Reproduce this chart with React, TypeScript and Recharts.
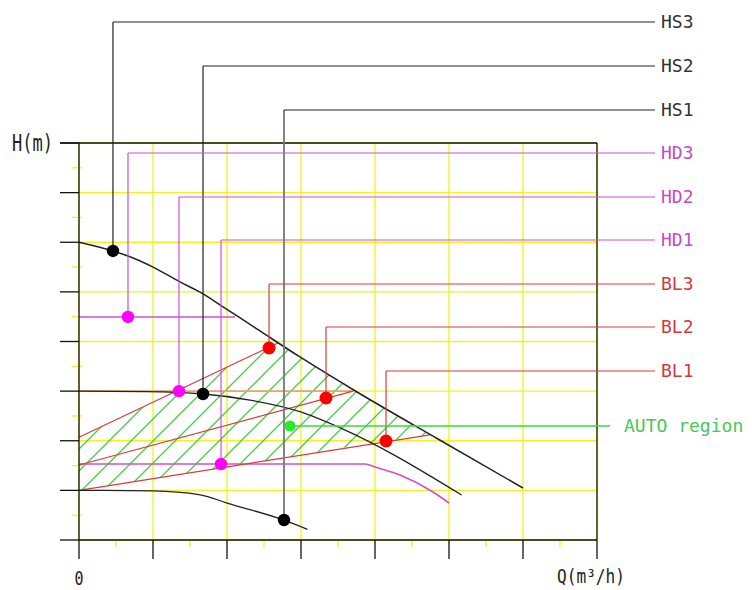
import React from 'react';
import {
  ComposedChart,
  XAxis,
  YAxis,
  CartesianGrid,
  Line,
  Area,
  ReferenceLine,
  ReferenceDot,
} from 'recharts';

// ---------- data ----------
const X_TICKS = [0, 1, 2, 3, 4, 5, 6, 7];
const Y_TICKS = [0, 1, 2, 3, 4, 5, 6, 7, 8];
const X_MINOR = [0.5, 1.5, 2.5, 3.5, 4.5, 5.5, 6.5];
const Y_MINOR = [0.5, 1.5, 2.5, 3.5, 4.5, 5.5, 6.5, 7.5];

const HS3_CURVE = [
  { x: 0, y: 6.0 },
  { x: 0.459, y: 5.824 },
  { x: 0.662, y: 5.723 },
  { x: 1.0, y: 5.5 },
  { x: 1.365, y: 5.2 },
  { x: 1.676, y: 4.96 },
  { x: 1.905, y: 4.74 },
  { x: 2.446, y: 4.212 },
  { x: 2.986, y: 3.688 },
  { x: 3.757, y: 2.982 },
  { x: 4.851, y: 2.035 },
  { x: 6.0, y: 1.048 },
];
const HS2_CURVE = [
  { x: 0, y: 3.0 },
  { x: 0.9, y: 2.99 },
  { x: 1.676, y: 2.942 },
  { x: 2.31, y: 2.82 },
  { x: 2.986, y: 2.586 },
  { x: 3.53, y: 2.26 },
  { x: 5.171, y: 0.907 },
];
const HS1_CURVE = [
  { x: 0, y: 1.0 },
  { x: 1.0, y: 0.99 },
  { x: 1.638, y: 0.91 },
  { x: 2.0, y: 0.745 },
  { x: 2.77, y: 0.4 },
  { x: 3.087, y: 0.216 },
];
const HD3_LINE = [
  { x: 0, y: 4.494 },
  { x: 2.108, y: 4.494 },
];
const HD2_LINE = [
  { x: 0, y: 3.0 },
  { x: 3.703, y: 3.0 },
];
const HD1_CURVE = [
  { x: 0, y: 1.531 },
  { x: 3.865, y: 1.531 },
  { x: 4.0, y: 1.471 },
  { x: 4.338, y: 1.31 },
  { x: 4.784, y: 0.967 },
  { x: 5.0, y: 0.746 },
];
const BL3_LINE = [
  { x: 0, y: 2.07 },
  { x: 2.689, y: 3.97 },
];
const BL2_LINE = [
  { x: 0, y: 1.511 },
  { x: 3.703, y: 3.0 },
];
const BL1_LINE = [
  { x: 0, y: 1.0 },
  { x: 4.743, y: 2.12 },
];
const AUTO_REGION = [
  { x: 0, low: 1.0, high: 2.07 },
  { x: 2.689, low: 1.645, high: 3.97 },
  { x: 2.986, low: 1.717, high: 3.688 },
  { x: 3.757, low: 1.902, high: 2.982 },
  { x: 4.743, low: 2.12, high: 2.12 },
];

const MARKERS = [
  { name: 'HS3', group: 'HS', x: 0.459, y: 5.824 },
  { name: 'HS2', group: 'HS', x: 1.676, y: 2.942 },
  { name: 'HS1', group: 'HS', x: 2.77, y: 0.403 },
  { name: 'HD3', group: 'HD', x: 0.662, y: 4.494 },
  { name: 'HD2', group: 'HD', x: 1.351, y: 3.0 },
  { name: 'HD1', group: 'HD', x: 1.919, y: 1.531 },
  { name: 'BL3', group: 'BL', x: 2.568, y: 3.869 },
  { name: 'BL2', group: 'BL', x: 3.338, y: 2.861 },
  { name: 'BL1', group: 'BL', x: 4.149, y: 1.995 },
];
const AUTO_POINT = { name: 'AUTO region', x: 2.851, y: 2.297 };

// ---------- layout ----------
const LEADER_LEVELS = [10.438, 9.552, 8.665, 7.798, 6.912, 6.045, 5.159, 4.292, 3.406];
const LEADER_END_X = 7.784;
const AUTO_END_X = 7.176;

const MONO = '"DejaVu Sans Mono", monospace';
const YELLOW = '#f2f21c';
const GROUP_STYLE: Record<string, { line: string; dot: string; text: string; r: number }> = {
  HS: { line: '#222', dot: '#000', text: '#333', r: 6.2 },
  HD: { line: '#d050d0', dot: '#ff00ff', text: '#c64ac6', r: 6.2 },
  BL: { line: '#d83c3c', dot: '#ff0000', text: '#cf3b3b', r: 6.5 },
};

const XTick = (props: any) => {
  const { x, y, payload } = props;
  if (payload.value === 0) {
    return (
      <text x={x} y={y + 26} textAnchor="middle" fontSize={19} fontFamily={MONO} fill="#222" textLength={9} lengthAdjust="spacingAndGlyphs">
        0
      </text>
    );
  }
  if (payload.value === 7) {
    return (
      <text x={x - 40} y={y + 24} fontSize={19} fontFamily={MONO} fill="#222" textLength={68} lengthAdjust="spacingAndGlyphs">
        Q(m³/h)
      </text>
    );
  }
  return <g />;
};

const YTick = (props: any) => {
  const { x, y, payload } = props;
  if (payload.value === 8) {
    return (
      <text x={x - 48} y={y + 8} fontSize={23} fontFamily={MONO} fill="#222" textLength={41} lengthAdjust="spacingAndGlyphs">
        H(m)
      </text>
    );
  }
  return <g />;
};

export default function App() {
  return (
    <div style={{ position: 'absolute', left: 0, top: 0, width: 752, height: 590, background: '#fff' }}>
      <ComposedChart
        width={752}
        height={590}
        margin={{ top: 143, right: 155, bottom: 31, left: 60 }}
      >
        <defs>
          <pattern id="hatch" patternUnits="userSpaceOnUse" width={22} height={22}>
            <path d="M0,22 L22,0 M-6,6 L6,-6 M16,28 L28,16" stroke="#3fcf3f" strokeWidth={1.3} />
          </pattern>
        </defs>
        <CartesianGrid stroke={YELLOW} strokeWidth={1.3} />
        <XAxis
          type="number"
          dataKey="x"
          domain={[0, 7]}
          ticks={X_TICKS}
          height={19}
          tickSize={19}
          tickMargin={0}
          interval={0}
          axisLine={{ stroke: '#111', strokeWidth: 1.3 }}
          tickLine={{ stroke: '#111', strokeWidth: 1.3 }}
          tick={XTick}
        />
        <YAxis
          type="number"
          dataKey="y"
          domain={[0, 8]}
          ticks={Y_TICKS}
          width={19}
          tickSize={19}
          tickMargin={0}
          interval={0}
          axisLine={{ stroke: '#111', strokeWidth: 1.3 }}
          tickLine={{ stroke: '#111', strokeWidth: 1.3 }}
          tick={YTick}
        />

        {X_MINOR.map((v) => (
          <ReferenceLine key={'xm' + v} segment={[{ x: v, y: 0 }, { x: v, y: -0.14 }]} stroke={YELLOW} strokeWidth={1.3} ifOverflow="visible" />
        ))}
        {Y_MINOR.map((v) => (
          <ReferenceLine key={'ym' + v} segment={[{ x: -0.095, y: v }, { x: 0.04, y: v }]} stroke={YELLOW} strokeWidth={1.3} ifOverflow="visible" />
        ))}

        <Area
          data={AUTO_REGION}
          dataKey={(d: any) => [d.low, d.high]}
          type="linear"
          stroke="none"
          fill="url(#hatch)"
          fillOpacity={1}
          isAnimationActive={false}
        />

        <Line data={HD2_LINE} dataKey="y" type="linear" stroke="#e9a27c" strokeWidth={1.8} dot={false} isAnimationActive={false} />
        <Line data={HD3_LINE} dataKey="y" type="linear" stroke={GROUP_STYLE.HD.line} strokeWidth={1.5} dot={false} isAnimationActive={false} />
        <Line data={HD1_CURVE} dataKey="y" type="monotone" stroke={GROUP_STYLE.HD.line} strokeWidth={1.6} dot={false} isAnimationActive={false} />
        <Line data={BL3_LINE} dataKey="y" type="linear" stroke={GROUP_STYLE.BL.line} strokeWidth={1.2} dot={false} isAnimationActive={false} />
        <Line data={BL2_LINE} dataKey="y" type="linear" stroke={GROUP_STYLE.BL.line} strokeWidth={1.2} dot={false} isAnimationActive={false} />
        <Line data={BL1_LINE} dataKey="y" type="linear" stroke={GROUP_STYLE.BL.line} strokeWidth={1.2} dot={false} isAnimationActive={false} />
        <Line data={HS3_CURVE} dataKey="y" type="monotone" stroke="#222" strokeWidth={1.5} dot={false} isAnimationActive={false} />
        <Line data={HS2_CURVE} dataKey="y" type="monotone" stroke="#222" strokeWidth={1.3} dot={false} isAnimationActive={false} />
        <Line data={HS1_CURVE} dataKey="y" type="monotone" stroke="#222" strokeWidth={1.3} dot={false} isAnimationActive={false} />

        {/* frame */}
        <ReferenceLine segment={[{ x: -0.257, y: 8 }, { x: 7, y: 8 }]} stroke="#111" strokeWidth={1.3} ifOverflow="visible" />
        <ReferenceLine segment={[{ x: 7, y: 0 }, { x: 7, y: 8 }]} stroke="#111" strokeWidth={1.3} ifOverflow="visible" />

        {/* leaders */}
        {MARKERS.map((m, i) => {
          const st = GROUP_STYLE[m.group];
          const lvl = LEADER_LEVELS[i];
          const isHS1 = m.name === 'HS1';
          return (
            <React.Fragment key={'ld' + m.name}>
              <ReferenceLine
                segment={[{ x: m.x, y: m.y }, { x: m.x, y: lvl }]}
                stroke={isHS1 ? '#777' : st.line}
                strokeWidth={isHS1 ? 1.8 : 1.2}
                ifOverflow="visible"
              />
              <ReferenceLine
                segment={[{ x: m.x, y: lvl }, { x: LEADER_END_X, y: lvl }]}
                stroke={st.line}
                strokeWidth={1.2}
                ifOverflow="visible"
                label={{ value: m.name, position: 'right', offset: 6, fill: st.text, fontSize: 18, fontFamily: MONO }}
              />
            </React.Fragment>
          );
        })}
        <ReferenceLine
          segment={[{ x: AUTO_POINT.x, y: AUTO_POINT.y }, { x: AUTO_END_X, y: AUTO_POINT.y }]}
          stroke="#3ad83a"
          strokeWidth={1.3}
          ifOverflow="visible"
          label={{ value: AUTO_POINT.name, position: 'right', offset: 14, fill: '#45c955', fontSize: 18, fontFamily: MONO }}
        />

        {/* dots */}
        {MARKERS.map((m) => {
          const st = GROUP_STYLE[m.group];
          return (
            <ReferenceDot key={'dt' + m.name} x={m.x} y={m.y} r={st.r} fill={st.dot} stroke="none" ifOverflow="visible" />
          );
        })}
        <ReferenceDot x={AUTO_POINT.x} y={AUTO_POINT.y} r={5.5} fill="#22ee22" stroke="none" ifOverflow="visible" />
      </ComposedChart>
    </div>
  );
}
